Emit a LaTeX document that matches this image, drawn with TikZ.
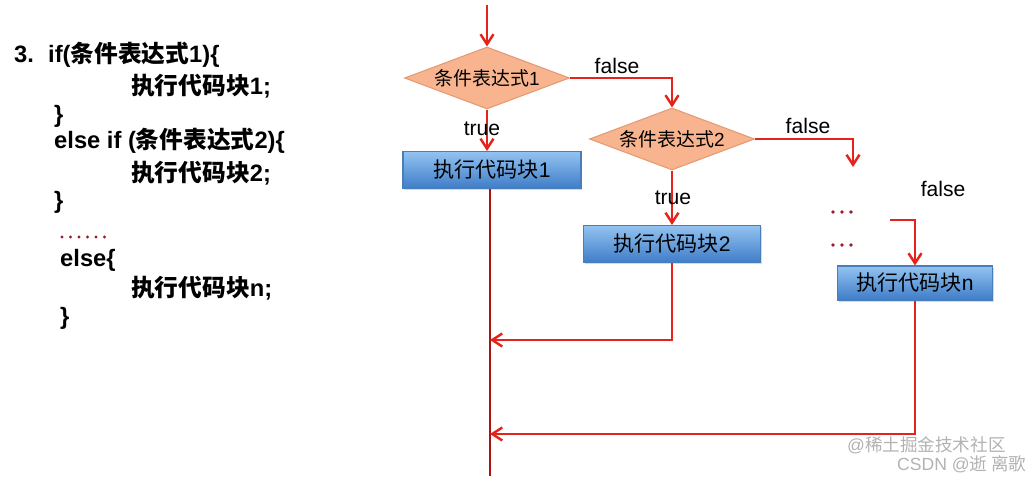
\documentclass[tikz,border=0pt]{standalone}
\usepackage{fontspec}
\setmainfont{Liberation Sans}
\newfontfamily\cjk{Noto Sans CJK SC}
\usetikzlibrary{arrows.meta,positioning,calc,shapes.geometric,shadows}
\definecolor{flow}{HTML}{E5231B}
\definecolor{mainflow}{HTML}{B01212}
\definecolor{dotred}{HTML}{9E1B2A}
\definecolor{peach}{HTML}{F8B48E}
\definecolor{peachdark}{HTML}{E39A72}
\definecolor{boxtop}{HTML}{93C3F0}
\definecolor{boxbot}{HTML}{3F7DC9}
\definecolor{boxline}{HTML}{4A7EBB}

\begin{document}
\begin{tikzpicture}[x=0.02cm,y=-0.02cm,line width=1.4pt,
  cond/.style={diamond,aspect=2.7,inner sep=0pt,minimum width=3.3cm,minimum height=1.24cm,
    fill=peach,draw=peachdark,line width=0.6pt,font=\fontsize{10.8}{12}\selectfont},
  block/.style={rectangle,minimum height=0.74cm,top color=boxtop,bottom color=boxbot,
    draw=boxline,line width=0.6pt,font=\fontsize{12}{14}\selectfont,
    drop shadow={opacity=0.3,shadow xshift=0.7pt,shadow yshift=-0.9pt}},
  flowline/.style={draw=flow,line width=1.4pt,-{Straight Barb[length=2mm,width=2.6mm]}},
  lbl/.style={font=\fontsize{12}{14}\selectfont},
  code/.style={anchor=west,inner sep=0pt,font=\fontsize{13.5}{16}\selectfont\bfseries},
  wmark/.style={anchor=west,inner sep=0pt,text=gray!60,font=\fontsize{10}{12}\selectfont}]
  \useasboundingbox (0,0) rectangle (1026,476);

  % code on the left
  \node[code] (c1) at (13,55) {3.\hskip0.6em if({\cjk 条件表达式}1)\{};
  \node[code] (c2) at (130,86) {{\cjk 执行代码块}1;};
  \node[code] (c3) at (53,116) {\}};
  \node[code] (c4) at (53,141) {else if ({\cjk 条件表达式}2)\{};
  \node[code] (c5) at (130,173) {{\cjk 执行代码块}2;};
  \node[code] (c6) at (53,202) {\}};
  \foreach \x in {62,70.5,...,105} \fill[dotred] (\x,237) circle (0.9pt);
  \node[code] (c7) at (59,260) {else\{};
  \node[code] (c8) at (130,288) {{\cjk 执行代码块}n;};
  \node[code] (c9) at (59,318) {\}};

  % flow chart
  \coordinate (start) at (487,5);
  \node[cond] (d1) at (487,78) {{\cjk 条件表达式}1};
  \node[block,minimum width=3.56cm] (b1) at (492,170) {{\cjk 执行代码块}1};
  \node[cond] (d2) at (672,139) {{\cjk 条件表达式}2};
  \node[block,minimum width=3.54cm] (b2) at (672,244) {{\cjk 执行代码块}2};
  \node[block,minimum width=3.1cm,minimum height=0.68cm] (bn) at (915,283) {{\cjk 执行代码块}n};
  \coordinate (d2f) at (853,167);
  \coordinate (nin) at (890,220);
  \coordinate (j1) at (490,340);
  \coordinate (j2) at (490,434);
  \coordinate (end) at (490,476);

  \draw[flowline] (start) -- (d1.north);
  \draw[flowline] (d1.east) -| (d2.north);
  \draw[flowline] (d1.south) -- (d1.south |- b1.north);
  \draw[flowline] (d2.east) -| (d2f);
  \draw[flowline] (d2.south) -- (d2.south |- b2.north);
  \draw[flowline] (nin) -| (bn.north);
  \draw[mainflow] (b1.south -| end) -- (end);
  \draw[flowline] (b2.south) |- (j1);
  \draw[flowline] (bn.south) |- (j2);

  \node[lbl] (f1) at (617,66) {false};
  \node[lbl] (t1) at (482,129) {true};
  \node[lbl] (f2) at (808,126) {false};
  \node[lbl] (t2) at (673,198) {true};
  \node[lbl] (f3) at (943,189) {false};
  \foreach \y in {212,245}
    \foreach \x in {833,842,851} \fill[dotred] (\x,\y) circle (1.1pt);

  % watermark
  \node[wmark] (wm1) at (846,445) {@{\cjk 稀土掘金技术社区}};
  \node[wmark] (wm2) at (896,464) {CSDN @{\cjk 逝 离歌}};
\end{tikzpicture}
\end{document}
